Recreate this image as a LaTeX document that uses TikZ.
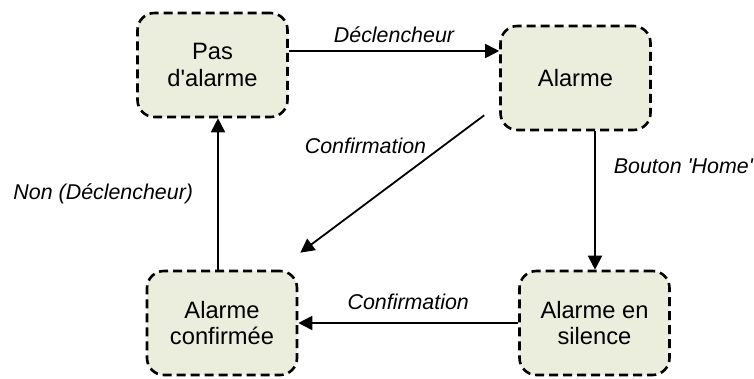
\documentclass[tikz,border=0pt]{standalone}
\usepackage{fontspec}
\setmainfont{Liberation Sans}
\usetikzlibrary{arrows.meta,positioning}
\definecolor{fondetat}{RGB}{235,238,221}

\begin{document}
\begin{tikzpicture}[x=1pt,y=-1pt,
  st/.style={draw,fill=fondetat,rounded corners=17pt,line width=2.6pt,
    dash pattern=on 9pt off 5pt,align=center,minimum width=150pt,minimum height=104pt,
    font=\fontsize{23.7}{26.5}\selectfont},
  ar/.style={-{Triangle[length=14pt,width=14pt]},line width=1.8pt},
  lab/.style={font=\fontsize{21.4}{24}\selectfont\itshape,inner sep=2pt}]
\useasboundingbox (0,0) rectangle (754,378);
\node[st] (pas) at (212.5,65) {Pas\\d\textquotesingle alarme};
\node[st] (alarme) at (575.5,78) {Alarme};
\node[st] (confirmee) at (222,323) {Alarme\\confirmée};
\node[st] (silence) at (594.5,323) {Alarme en\\silence};
\draw[ar] ([yshift=14pt]pas.east) -- node[lab,above=5pt]{Déclencheur} ([yshift=14pt]pas.east -| alarme.west);
\draw[ar] ([xshift=19.5pt]alarme.south) -- node[lab,pos=0.25,anchor=west,xshift=16pt]{Bouton \textquotesingle Home\textquotesingle}
  ([xshift=19.5pt]alarme.south |- silence.north);
\draw[ar] (silence) -- node[lab,above=10pt]{Confirmation} (confirmee);
\draw[ar] ([xshift=-4pt]confirmee.north) -- node[lab,left=22pt]{Non (Déclencheur)}
  ([xshift=-4pt]confirmee.north |- pas.south);
\draw[ar] ([shift={(-15pt,16pt)}]alarme.south west) -- node[lab,pos=0.3,above left=0pt]{Confirmation}
  ([shift={(2pt,17pt)}]confirmee.north east);
\end{tikzpicture}
\end{document}
